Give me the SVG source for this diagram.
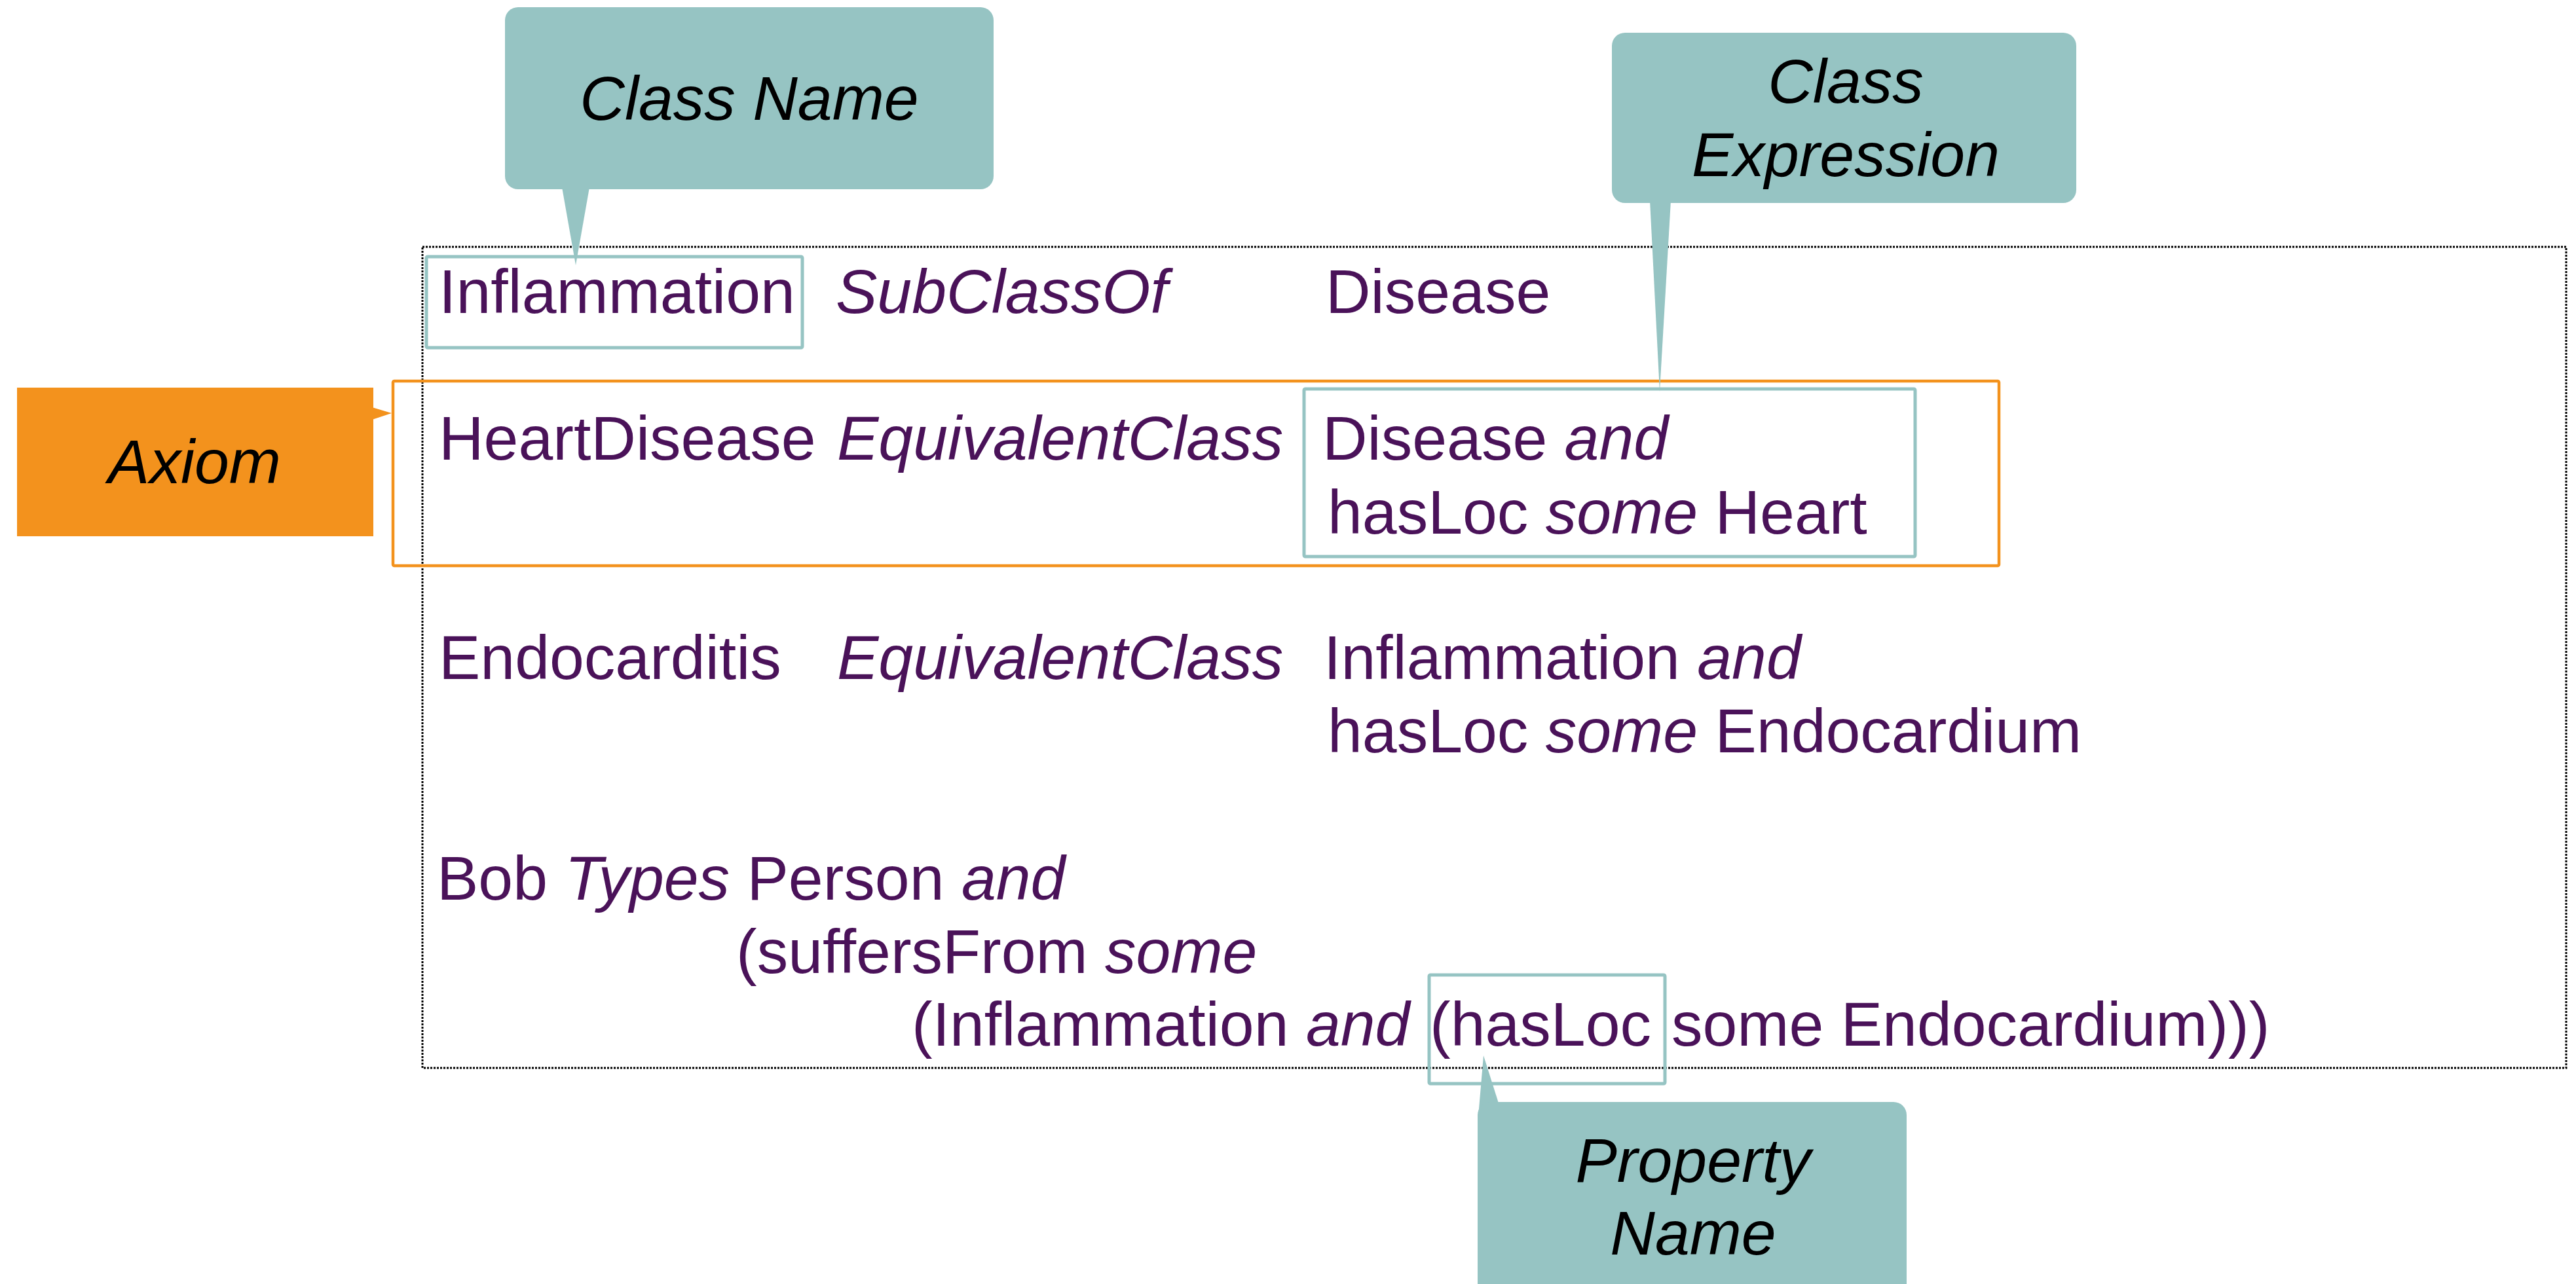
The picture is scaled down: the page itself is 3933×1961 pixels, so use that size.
<svg xmlns="http://www.w3.org/2000/svg" width="3933" height="1961" viewBox="0 0 3933 1961">
<style>
.t{font-family:"Liberation Sans",Arial,sans-serif;font-size:95px;fill:#4A1259}
.i{font-style:italic}
.c{font-family:"Liberation Sans",Arial,sans-serif;font-size:95px;font-style:italic;fill:#000;text-anchor:middle}
.teal{fill:#96C4C3}
.hl{fill:none;stroke:#96C4C3;stroke-width:5}
.ax{fill:none;stroke:#F3921D;stroke-width:4.5}
</style>
<rect width="3933" height="1961" fill="#fff"/>
<g id="frame">
<rect x="645" y="377" width="3273" height="1254" fill="none" stroke="#000" stroke-width="3" stroke-dasharray="3 2"/>
</g>
<g id="axioms">
<text class="t" y="478"><tspan x="670">Inflammation</tspan><tspan x="1276" class="i">SubClassOf</tspan><tspan x="2024">Disease</tspan></text>
<text class="t" y="702"><tspan x="670">HeartDisease</tspan><tspan x="1278" class="i">EquivalentClass</tspan><tspan x="2019">Disease </tspan><tspan class="i">and</tspan></text>
<text class="t" y="815"><tspan x="2027">hasLoc </tspan><tspan class="i">some</tspan><tspan> Heart</tspan></text>
<text class="t" y="1037"><tspan x="670">Endocarditis</tspan><tspan x="1278" class="i">EquivalentClass</tspan><tspan x="2021">Inflammation </tspan><tspan class="i">and</tspan></text>
<text class="t" y="1149"><tspan x="2027">hasLoc </tspan><tspan class="i">some</tspan><tspan> Endocardium</tspan></text>
<text class="t" y="1374"><tspan x="667">Bob </tspan><tspan class="i">Types</tspan><tspan> Person </tspan><tspan class="i">and</tspan></text>
<text class="t" y="1486"><tspan x="1124">(suffersFrom </tspan><tspan class="i">some</tspan></text>
<text class="t" y="1597"><tspan x="1392">(Inflammation </tspan><tspan class="i">and</tspan><tspan x="2183">(hasLoc</tspan><tspan x="2552">some Endocardium)))</tspan></text>
</g>
<g id="highlights">
<rect id="hl-classname" class="hl" x="651" y="392" width="574" height="139" rx="2"/>
<rect id="hl-axiom" class="ax" x="600" y="582" width="2452" height="282" rx="2"/>
<rect id="hl-classexpr" class="hl" x="1991" y="594" width="933" height="256" rx="2"/>
<rect id="hl-property" class="hl" x="2182" y="1489" width="360" height="166" rx="2"/>
</g>
<g id="connectors">
<polygon class="teal" points="858,286 900,286 879,405"/>
<polygon class="teal" points="2519,306 2551,306 2534,598"/>
<polygon fill="#F3921D" points="568,622 598,631 568,641"/>
<polygon class="teal" points="2265,1612 2289,1688 2257,1705"/>
</g>
<g id="callout-classname">
<rect class="teal" x="771" y="11" width="746" height="278" rx="20"/>
<text class="c" x="1144" y="183">Class Name</text>
</g>
<g id="callout-classexpression">
<rect class="teal" x="2461" y="50" width="709" height="260" rx="20"/>
<text class="c" x="2818" y="157">Class</text>
<text class="c" x="2818" y="269">Expression</text>
</g>
<g id="callout-axiom">
<rect fill="#F3921D" x="26" y="592" width="544" height="227"/>
<text class="c" x="297" y="738">Axiom</text>
</g>
<g id="callout-propertyname">
<rect class="teal" x="2256" y="1683" width="655" height="320" rx="20"/>
<text class="c" x="2585" y="1805">Property</text>
<text class="c" x="2585" y="1916">Name</text>
</g>
</svg>
